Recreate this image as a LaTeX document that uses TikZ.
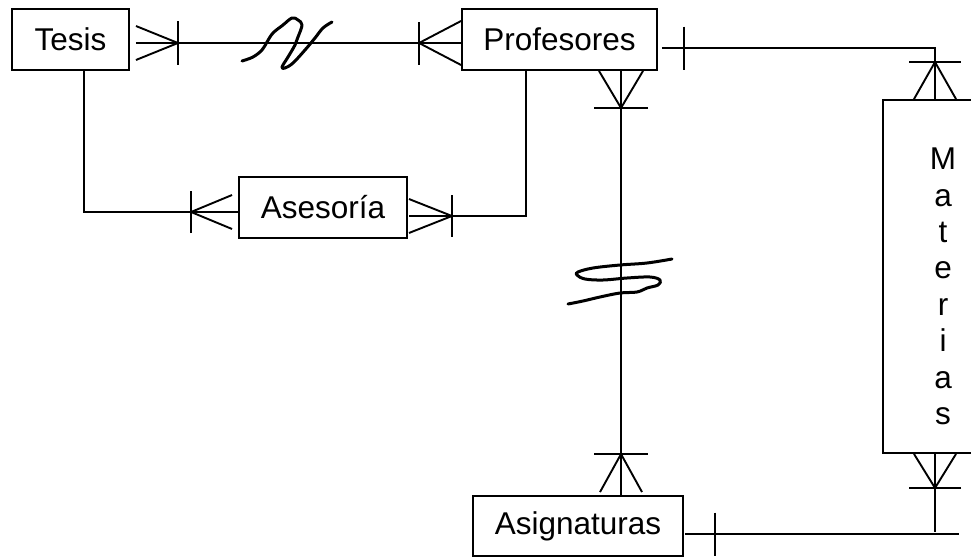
\documentclass[tikz,border=0pt]{standalone}
\usepackage{fontspec}
\setmainfont{Liberation Sans}
\usetikzlibrary{calc}

\tikzset{
  entity/.style={draw, line width=1.9pt, inner sep=0pt, rectangle,
    font=\fontsize{31.5}{36.4}\selectfont},
  rel/.style={line width=1.9pt},
  scrawl/.style={line width=3pt, line cap=round, line join=round},
  % crow's foot: spread / length / half bar
  pics/crowfoot/.style args={#1/#2/#3}{code={
    \draw[rel] (0,#1) -- (#2,0) -- (0,-#1);
    \draw[rel] (#2,-#3) -- (#2,#3);
  }},
  % single bar: distance / half bar
  pics/onebar/.style args={#1/#2}{code={
    \draw[rel] (#1,-#2) -- (#1,#2);
  }},
}

\begin{document}
\begin{tikzpicture}[x=1pt, y=-1pt]
  \path[use as bounding box] (0,0) rectangle (971,557);
  \clip (0,0) rectangle (971,557);

  % entities
  \node[entity, minimum width=117pt, minimum height=61pt] (tesis) at (70.5,39.5) {Tesis};
  \node[entity, minimum width=195pt, minimum height=61pt] (prof) at (559.5,39.5) {Profesores};
  \node[entity, minimum width=168pt, minimum height=61pt] (ases) at (323,207.5) {Asesoría};
  \node[entity, minimum width=210pt, minimum height=60pt] (asig) at (578,526) {Asignaturas};
  \node[entity, minimum width=120pt, minimum height=353pt,
    label={[font=\fontsize{31.5}{36.4}\selectfont, align=center, yshift=-10pt]center:M\\a\\t\\e\\r\\i\\a\\s}]
    (mat) at (943,276.5) {};

  % Tesis -- Profesores
  \draw[rel] ([shift={(6pt,-3.5pt)}]tesis.east) -- ([yshift=-3.5pt]prof.west);
  \pic at ([shift={(6pt,-3.5pt)}]tesis.east) {crowfoot={17/42/22}};
  \pic[rotate=180] at ([yshift=-3.5pt]prof.west) {crowfoot={22/42/21.5}};

  % Profesores -- Asignaturas
  \coordinate (pa) at ([xshift=61.5pt]prof.south);
  \draw[rel] (pa) -- (pa |- asig.north);
  \pic[rotate=-90] at (pa) {crowfoot={22/37/27}};
  \pic[rotate=90] at ([xshift=43pt, yshift=3pt]asig.north) {crowfoot={21/38/27}};

  % Profesores -- Materias
  \coordinate (pm) at ([shift={(4pt,-8.5pt)}]prof.east);
  \draw[rel] (pm) -| ([xshift=-8pt]mat.north);
  \pic at (pm) {onebar={22/21.5}};
  \pic[rotate=90] at ([xshift=-8pt]mat.north) {crowfoot={21/37/26}};

  % Asignaturas -- Materias
  \coordinate (am) at ([shift={(1pt,-8pt)}]asig.east);
  \coordinate (ma) at ([xshift=-8pt]mat.south);
  \draw[rel] (am) -- ++(274,0);
  \draw[rel] (ma) -- ++(0,78);
  \pic at (am) {onebar={30/21.5}};
  \pic[rotate=-90] at (ma) {crowfoot={21/34/26}};

  % Profesores -- Asesoría
  \draw[rel] ([xshift=-33.5pt]prof.south) |- ([shift={(1pt,-8.5pt)}]ases.east);
  \pic at ([shift={(1pt,-8.5pt)}]ases.east) {crowfoot={17/43/21}};

  % Tesis -- Asesoría
  \draw[rel] ([xshift=13.5pt]tesis.south) |- ([yshift=-4.5pt]ases.west);
  \pic[rotate=180] at ([shift={(-6pt,-4.5pt)}]ases.west) {crowfoot={17/41/21}};

  % hand-drawn marks across the lines
  \draw[scrawl] plot[smooth, tension=0.6] coordinates {
    (242,61) (253,57) (262,50) (267,42) (273,33) (283,25) (292,18)
    (298,20) (302,25) (298,37) (295,45) (288,57) (282,67) (285,68)
    (293,63) (305,50) (315,38) (323,28) (332,22)};
  \draw[scrawl] plot[smooth, tension=0.6] coordinates {
    (672,259) (647,263) (620,265) (593,268) (578,272) (577,275)
    (585,279) (603,280) (627,278) (650,277) (660,280) (658,285)
    (647,288) (637,292) (620,293) (600,297) (583,301) (568,304)};
\end{tikzpicture}
\end{document}
